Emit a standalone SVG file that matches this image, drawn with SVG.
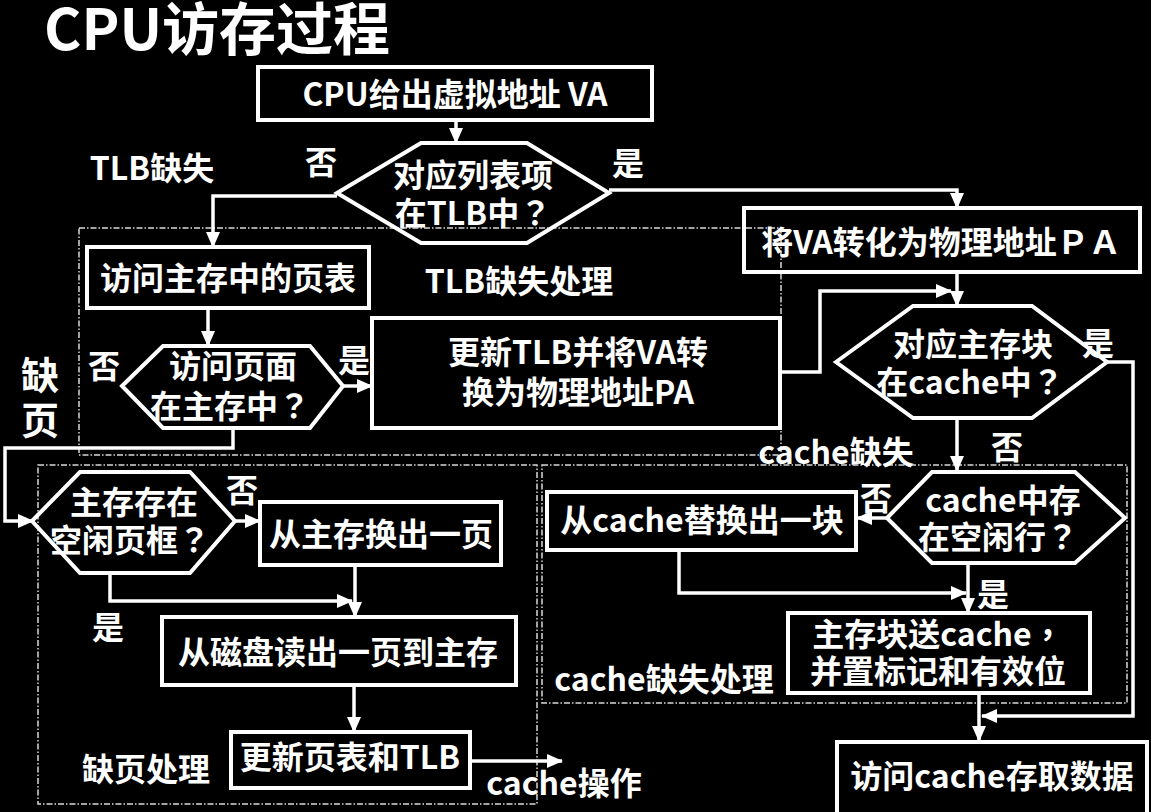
<svg xmlns="http://www.w3.org/2000/svg" width="1151" height="812" viewBox="0 0 1151 812">
<style>
text{font-family:"Noto Sans CJK SC","Noto Sans",sans-serif;font-weight:700;fill:#fff;font-size:32px;text-anchor:middle}
.p{font-family:"Noto Sans CJK TC","Noto Sans CJK SC",sans-serif}
.title{font-size:57px;text-anchor:start}
.big{font-size:38px}
.box{fill:none;stroke:#fff;stroke-width:4}
.conn{fill:none;stroke:#fff;stroke-width:3.5}
.region{fill:none;stroke:#d8d8d8;stroke-width:1.5;stroke-dasharray:6 2 1.5 2}
</style>
<defs>
<marker id="arr" markerUnits="userSpaceOnUse" markerWidth="16" markerHeight="14" refX="15" refY="7" orient="auto">
<path d="M0,0 L16,7 L0,14 z" fill="#fff"/>
</marker>
</defs>
<rect x="0" y="0" width="1151" height="812" fill="#000"/>
<text class="title" x="44" y="50">CPU访存过程</text>

<g id="regions">
<rect class="region" x="79" y="228" width="702" height="227"/>
<rect class="region" x="38" y="465" width="499" height="339"/>
<rect class="region" x="542" y="465" width="585" height="238"/>
</g>

<g id="connectors">
<path class="conn" d="M456,120 V143" marker-end="url(#arr)"/>
<path class="conn" d="M337,196 H213 V247" marker-end="url(#arr)"/>
<path class="conn" d="M609,190 H957 V208" marker-end="url(#arr)"/>
<path class="conn" d="M208,310 V346" marker-end="url(#arr)"/>
<path class="conn" d="M343,386 H372" marker-end="url(#arr)"/>
<path class="conn" d="M233,428 V448 H5 V521 H33" marker-end="url(#arr)"/>
<path class="conn" d="M780,372 H820 V291 H951" marker-end="url(#arr)"/>
<path class="conn" d="M957,272 V306" marker-end="url(#arr)"/>
<path class="conn" d="M1107,362 H1133 V716 H982" marker-end="url(#arr)"/>
<path class="conn" d="M957,418 V471" marker-end="url(#arr)"/>
<path class="conn" d="M887,518 H857" marker-end="url(#arr)"/>
<path class="conn" d="M679,550 V593 H966" marker-end="url(#arr)"/>
<path class="conn" d="M968,563 V613" marker-end="url(#arr)"/>
<path class="conn" d="M979,693 V741" marker-end="url(#arr)"/>
<path class="conn" d="M235,521 H260" marker-end="url(#arr)"/>
<path class="conn" d="M110,573 V601 H352" marker-end="url(#arr)"/>
<path class="conn" d="M355,565 V617" marker-end="url(#arr)"/>
<path class="conn" d="M354,685 V732" marker-end="url(#arr)"/>
<path class="conn" d="M470,761 H562" marker-end="url(#arr)"/>
</g>

<g id="n-cpu-va">
<rect class="box" x="258" y="67" width="394" height="53"/>
<text x="455" y="106">CPU给出虚拟地址 VA</text>
</g>
<g id="n-tlb-hit">
<polygon class="box" points="337,193 421,143 527,143 609,193 527,243 421,243"/>
<text x="473" y="187">对应列表项</text>
<text x="473" y="225">在TLB中<tspan class="p">？</tspan></text>
</g>
<g id="n-va-pa">
<rect class="box" x="744" y="208" width="396" height="64"/>
<text x="941" y="254">将VA转化为物理地址ＰＡ</text>
</g>
<g id="n-page-table">
<rect class="box" x="87" y="247" width="282" height="61"/>
<text x="228" y="290">访问主存中的页表</text>
</g>
<g id="n-page-in-mem">
<polygon class="box" points="122,386 163,346 310,346 343,386 310,428 163,428"/>
<text x="233" y="378">访问页面</text>
<text x="230" y="418">在主存中<tspan class="p">？</tspan></text>
</g>
<g id="n-update-tlb">
<rect class="box" x="372" y="318" width="408" height="110"/>
<text x="578" y="364">更新TLB并将VA转</text>
<text x="578" y="404">换为物理地址PA</text>
</g>
<g id="n-block-in-cache">
<polygon class="box" points="836,362 913,306 1032,306 1107,362 1032,418 913,418"/>
<text x="973" y="356">对应主存块</text>
<text x="970" y="394">在cache中<tspan class="p">？</tspan></text>
</g>
<g id="n-free-line">
<polygon class="box" points="887,518 932,472 1075,472 1125,518 1075,563 932,563"/>
<text x="1003" y="512">cache中存</text>
<text x="998" y="549">在空闲行<tspan class="p">？</tspan></text>
</g>
<g id="n-replace-block">
<rect class="box" x="547" y="492" width="309" height="58"/>
<text x="702" y="532">从cache替换出一块</text>
</g>
<g id="n-send-block">
<rect class="box" x="788" y="613" width="302" height="80"/>
<text x="938" y="646">主存块送cache<tspan class="p">，</tspan></text>
<text x="938" y="683">并置标记和有效位</text>
</g>
<g id="n-access-cache">
<rect class="box" x="837" y="742" width="310" height="80"/>
<text x="992" y="788">访问cache存取数据</text>
</g>
<g id="n-free-frame">
<polygon class="box" points="32,521 80,472 190,472 235,521 190,573 80,573"/>
<text x="134" y="514">主存存在</text>
<text x="130" y="552">空闲页框<tspan class="p">？</tspan></text>
</g>
<g id="n-swap-out">
<rect class="box" x="260" y="502" width="241" height="63"/>
<text x="381" y="546">从主存换出一页</text>
</g>
<g id="n-read-disk">
<rect class="box" x="162" y="617" width="354" height="68"/>
<text x="338" y="664">从磁盘读出一页到主存</text>
</g>
<g id="n-update-pt">
<rect class="box" x="231" y="732" width="239" height="56"/>
<text x="350" y="769">更新页表和TLB</text>
</g>

<g id="labels">
<text x="321" y="174">否</text>
<text x="628" y="175">是</text>
<text x="152" y="180">TLB缺失</text>
<text x="519" y="293">TLB缺失处理</text>
<text x="104" y="378">否</text>
<text x="354" y="372">是</text>
<text class="big" x="40" y="389">缺</text>
<text class="big" x="40" y="434">页</text>
<text x="1098" y="355">是</text>
<text x="836" y="464">cache缺失</text>
<text x="1007" y="459">否</text>
<text x="876" y="510">否</text>
<text x="993" y="606">是</text>
<text x="664" y="691">cache缺失处理</text>
<text x="242" y="502">否</text>
<text x="108" y="639">是</text>
<text x="146" y="781">缺页处理</text>
<text x="564" y="795">cache操作</text>
</g>
</svg>
